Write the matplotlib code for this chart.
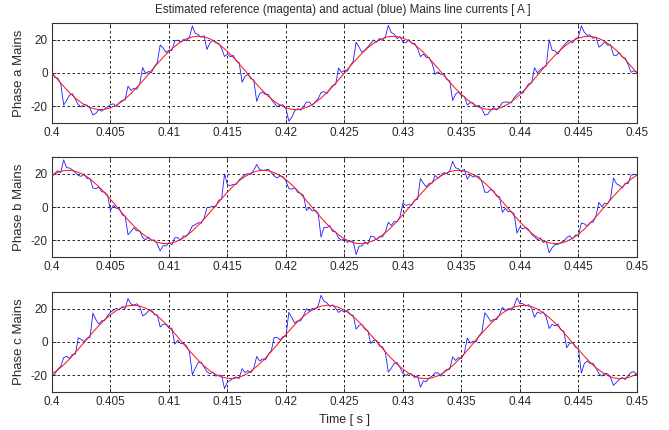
import numpy as np
import matplotlib
matplotlib.use("Agg")
import matplotlib.pyplot as plt

plt.rcParams['font.family'] = ['Liberation Sans', 'DejaVu Sans']

title = "Estimated reference (magenta) and actual (blue) Mains line currents [ A ]"
xlabel = "Time [ s ]"
ylabels = ["Phase a Mains", "Phase b Mains", "Phase c Mains"]
xticks = [0.4, 0.405, 0.41, 0.415, 0.42, 0.425, 0.43, 0.435, 0.44, 0.445, 0.45]
xticklabels = ["0.4", "0.405", "0.41", "0.415", "0.42", "0.425", "0.43", "0.435", "0.44", "0.445", "0.45"]
yticks = [-20, 0, 20]
yticklabels = ["-20", "0", "20"]
t_start, t_end = 0.4, 0.45

# reference (red) currents, sampled every 0.5 ms
red_a = [0.0, -4.1, -8.1, -11.8, -15.1, -17.8, -19.9, -21.3, -22.0, -21.8, -20.9, -19.3, -17.0, -14.0, -10.6, -6.8,
         -2.8, 1.4, 5.5, 9.4, 12.9, 16.0, 18.6, 20.5, 21.6, 22.0, 21.6, 20.5, 18.6, 16.0, 12.9, 9.4, 5.5, 1.4, -2.8,
         -6.8, -10.6, -14.0, -17.0, -19.3, -20.9, -21.8, -22.0, -21.3, -19.9, -17.8, -15.1, -11.8, -8.1, -4.1, 0.0,
         4.1, 8.1, 11.8, 15.1, 17.8, 19.9, 21.3, 22.0, 21.8, 20.9, 19.3, 17.0, 14.0, 10.6, 6.8, 2.8, -1.4, -5.5, -9.4,
         -12.9, -16.0, -18.6, -20.5, -21.6, -22.0, -21.6, -20.5, -18.6, -16.0, -12.9, -9.4, -5.5, -1.4, 2.8, 6.8,
         10.6, 14.0, 17.0, 19.3, 20.9, 21.8, 22.0, 21.3, 19.9, 17.8, 15.1, 11.8, 8.1, 4.1, 0.0]
red_b = [19.1, 20.8, 21.8, 22.0, 21.4, 20.1, 18.1, 15.4, 12.2, 8.5, 4.6, 0.5, -3.7, -7.7, -11.4, -14.7, -17.5, -19.7,
         -21.2, -21.9, -21.9, -21.1, -19.5, -17.2, -14.4, -11.0, -7.2, -3.2, 0.9, 5.0, 8.9, 12.6, 15.7, 18.3, 20.3,
         21.5, 22.0, 21.7, 20.6, 18.8, 16.4, 13.3, 9.8, 5.9, 1.8, -2.3, -6.4, -10.2, -13.7, -16.7, -19.1, -20.8,
         -21.8, -22.0, -21.4, -20.1, -18.1, -15.4, -12.2, -8.5, -4.6, -0.5, 3.7, 7.7, 11.4, 14.7, 17.5, 19.7, 21.2,
         21.9, 21.9, 21.1, 19.5, 17.2, 14.4, 11.0, 7.2, 3.2, -0.9, -5.0, -8.9, -12.6, -15.7, -18.3, -20.3, -21.5,
         -22.0, -21.7, -20.6, -18.8, -16.4, -13.3, -9.8, -5.9, -1.8, 2.3, 6.4, 10.2, 13.7, 16.7, 19.1]
red_c = [-19.1, -16.7, -13.7, -10.2, -6.3, -2.3, 1.8, 5.9, 9.8, 13.3, 16.3, 18.8, 20.7, 21.7, 22.0, 21.5, 20.3, 18.3,
         15.7, 12.5, 9.0, 5.1, 0.9, -3.3, -7.2, -11.0, -14.4, -17.3, -19.5, -21.0, -21.8, -22.0, -21.2, -19.7, -17.5,
         -14.7, -11.4, -7.7, -3.6, 0.5, 4.5, 8.5, 12.2, 15.4, 18.1, 20.1, 21.5, 22.0, 21.8, 20.8, 19.1, 16.7, 13.7,
         10.2, 6.3, 2.3, -1.8, -5.9, -9.8, -13.3, -16.3, -18.8, -20.7, -21.7, -22.0, -21.5, -20.3, -18.3, -15.7,
         -12.5, -9.0, -5.1, -0.9, 3.3, 7.2, 11.0, 14.4, 17.3, 19.5, 21.0, 21.8, 22.0, 21.2, 19.7, 17.5, 14.7, 11.4,
         7.7, 3.6, -0.5, -4.5, -8.5, -12.2, -15.4, -18.1, -20.1, -21.5, -22.0, -21.8, -20.8, -19.1]

# actual (blue) currents, sampled every 0.25 ms
blue_a = [0.6, -2.8, -3.0, -6.5, -19.3, -16.4, -13.3, -12.5, -15.7, -19.0,
          -20.4, -18.9, -19.3, -21.3, -25.2, -24.3, -22.0, -22.9, -21.5, -20.4,
          -19.0, -18.5, -20.1, -17.8, -16.4, -16.2, -7.9, -10.5, -9.1, -9.7,
          -6.5, 3.2, -0.3, 0.9, 0.2, 3.9, 6.1, 16.8, 15.0, 12.3,
          13.7, 13.5, 19.3, 19.7, 18.5, 20.1, 19.3, 21.5, 28.2, 23.8,
          23.0, 21.4, 22.4, 14.1, 18.1, 19.7, 18.0, 17.8, 14.8, 9.9,
          11.3, 9.7, 10.5, 7.1, 6.3, -5.6, -1.9, -0.9, -3.4, -4.3,
          -17.0, -12.4, -11.4, -13.0, -12.9, -15.9, -18.2, -20.1, -19.3, -19.1,
          -21.5, -28.9, -26.6, -22.7, -21.4, -22.4, -20.2, -17.5, -17.5, -19.4,
          -17.5, -15.5, -11.7, -11.2, -12.4, -9.6, -7.5, -6.8, 3.0, 0.3,
          1.7, 1.1, 4.4, 7.1, 18.5, 15.5, 12.3, 13.9, 15.7, 17.8,
          19.8, 18.5, 20.7, 19.6, 21.6, 28.5, 24.3, 23.4, 20.6, 21.8,
          18.5, 18.1, 20.0, 17.8, 17.8, 14.5, 9.8, 11.3, 9.3, 9.2,
          5.6, -0.8, 0.7, -0.9, -0.3, -3.9, -4.7, -16.5, -12.7, -11.4,
          -13.5, -14.0, -19.2, -17.8, -18.0, -20.3, -19.4, -21.5, -25.3, -24.8,
          -22.4, -20.8, -22.2, -20.6, -17.7, -17.4, -17.4, -18.0, -14.9, -12.9,
          -11.2, -12.2, -9.1, -6.5, -6.1, 3.1, 0.1, 2.0, 3.4, 4.1,
          19.9, 13.7, 13.2, 11.3, 14.3, 16.5, 18.4, 19.6, 18.1, 20.5,
          21.5, 28.2, 24.5, 22.6, 22.8, 20.7, 21.6, 15.5, 16.8, 18.6,
          16.6, 16.9, 10.7, 10.5, 12.2, 9.6, 8.9, 5.1, 0.4, 1.3,
          0.6]
blue_b = [18.1, 20.3, 21.8, 20.7, 28.3, 23.6, 23.4, 22.3, 20.7, 18.9,
          18.4, 19.9, 17.1, 17.1, 11.4, 11.0, 12.0, 9.2, 8.9, 7.2,
          -2.1, 1.0, -0.8, -0.8, -4.7, -5.4, -16.7, -14.7, -12.4, -14.3,
          -14.3, -18.5, -19.6, -18.0, -20.1, -19.7, -22.2, -26.3, -23.2, -23.3,
          -21.4, -22.7, -18.5, -18.4, -19.8, -17.3, -17.6, -15.0, -11.4, -10.6,
          -9.4, -9.7, -6.7, -0.4, -0.1, 0.4, 0.2, 4.1, 4.6, 19.8,
          13.3, 12.9, 13.6, 13.6, 16.2, 17.8, 19.6, 19.9, 19.6, 22.0,
          25.5, 22.5, 21.9, 22.2, 22.7, 20.6, 18.6, 17.4, 18.8, 18.2,
          15.7, 11.0, 10.7, 11.6, 8.8, 8.2, 6.9, -2.0, -0.4, -2.4,
          -1.9, -3.8, -18.1, -12.2, -12.3, -11.2, -14.7, -14.9, -18.7, -19.9,
          -19.1, -21.2, -20.4, -20.7, -28.5, -23.5, -23.3, -20.9, -22.4, -17.5,
          -17.8, -19.7, -17.6, -18.0, -15.0, -9.2, -11.1, -8.7, -8.9, -5.8,
          2.4, 1.0, 1.5, 1.0, 4.2, 4.5, 17.1, 14.2, 12.1, 14.2,
          14.3, 18.9, 17.4, 18.9, 20.7, 19.9, 21.7, 27.4, 23.5, 23.0,
          21.2, 22.6, 16.7, 19.3, 17.9, 18.7, 18.2, 15.2, 8.9, 8.8,
          10.5, 9.7, 6.5, 6.3, -3.2, -0.8, -2.8, -2.7, -4.0, -15.6,
          -12.0, -13.2, -12.2, -13.6, -16.4, -17.9, -19.6, -18.5, -21.3, -20.6,
          -27.5, -24.5, -22.5, -22.5, -21.3, -20.5, -18.3, -17.3, -19.2, -16.8,
          -17.4, -9.6, -10.1, -11.4, -9.3, -9.1, -5.5, 2.8, 0.2, 2.3,
          1.9, 5.2, 17.4, 14.0, 13.0, 11.4, 14.2, 14.0, 19.1, 19.4,
          19.5]
blue_c = [-20.0, -19.1, -16.3, -14.6, -9.4, -8.6, -9.9, -7.5, -7.3, 2.5,
          1.6, 0.2, 2.3, 2.7, 17.3, 13.5, 10.8, 12.7, 12.9, 15.6,
          17.8, 19.0, 20.2, 19.2, 21.2, 20.0, 26.0, 22.8, 22.1, 22.9,
          21.1, 15.7, 16.6, 18.7, 19.3, 16.4, 16.2, 9.0, 10.7, 10.6,
          8.3, 8.2, -1.3, 1.1, -1.0, -0.9, -2.3, -5.9, -19.7, -15.7,
          -12.4, -12.1, -15.1, -17.8, -19.1, -18.1, -20.5, -20.0, -20.0, -28.0,
          -24.0, -23.0, -21.6, -21.0, -21.9, -16.0, -18.3, -17.2, -18.5, -15.8,
          -8.7, -11.4, -10.2, -10.8, -7.3, -5.1, 2.7, 2.7, 1.2, 3.3,
          3.5, 17.8, 14.5, 11.4, 12.7, 12.6, 15.8, 19.9, 18.5, 20.2,
          19.7, 21.6, 28.0, 24.5, 23.5, 21.3, 22.3, 20.1, 17.7, 19.0,
          17.9, 19.0, 16.3, 16.0, 7.7, 10.0, 10.5, 7.7, 6.8, -0.9,
          0.9, 0.9, -2.5, -2.8, -6.3, -18.1, -15.8, -12.9, -12.3, -15.4,
          -18.8, -20.1, -18.9, -19.2, -21.4, -20.1, -27.1, -23.3, -23.8, -21.5,
          -20.5, -18.5, -18.5, -20.5, -17.9, -16.4, -16.4, -9.0, -11.1, -9.4,
          -10.0, -6.8, 2.4, -0.7, 0.6, 0.0, 3.7, 5.9, 17.5, 15.2,
          12.3, 13.5, 13.4, 16.2, 20.8, 18.9, 20.0, 19.1, 21.4, 26.5,
          23.0, 23.0, 21.6, 22.4, 20.2, 14.8, 18.0, 17.1, 18.0, 14.9,
          8.1, 10.5, 9.7, 10.7, 7.3, 6.5, -3.4, -0.9, -0.4, -3.1,
          -4.0, -18.7, -13.1, -11.4, -12.9, -12.7, -15.8, -18.9, -20.5, -18.8,
          -19.1, -21.4, -26.0, -24.2, -22.4, -21.3, -22.5, -20.2, -18.2, -17.8,
          -19.6]

reds = [red_a, red_b, red_c]
blues = [blue_a, blue_b, blue_c]

fig = plt.figure(figsize=(6.69, 4.30), dpi=100)
bottoms = [0.7140, 0.4023, 0.0884]
height = 0.2326
left, width = 0.0777, 0.8743
txt = '#2a2a2a'

for k in range(3):
    ax = fig.add_axes([left, bottoms[k], width, height])
    rv = np.array(reds[k])
    bv = np.array(blues[k])
    tr = np.linspace(t_start, t_end, len(rv))
    tb = np.linspace(t_start, t_end, len(bv))
    ax.plot(tb, bv, color='#1a1aff', lw=0.6, zorder=2)
    ax.plot(tr, rv, color='#ff1a1a', lw=0.75, zorder=3)
    ax.set_xlim(t_start, t_end)
    ax.set_ylim(-30, 30)
    ax.set_xticks(xticks)
    ax.set_xticklabels(xticklabels)
    ax.set_yticks(yticks)
    ax.set_yticklabels(yticklabels)
    ax.grid(True, color='k', linestyle=(0, (3, 3)), linewidth=0.6)
    ax.set_axisbelow(True)
    ax.tick_params(direction='in', length=3, width=0.6, labelsize=8.5, pad=3,
                   top=True, right=True, colors=txt)
    for sp in ax.spines.values():
        sp.set_linewidth(0.8)
        sp.set_color('#333333')
    ax.set_ylabel(ylabels[k], fontsize=9.5, color=txt)
    ax.yaxis.set_label_coords(-0.046, 0.5)
    if k == 2:
        ax.set_xlabel(xlabel, fontsize=9, color=txt, labelpad=4)

fig.text(0.513, 0.977, title, ha='center', va='center', fontsize=8.4, color=txt)

fig.savefig("out.png", dpi=100)
